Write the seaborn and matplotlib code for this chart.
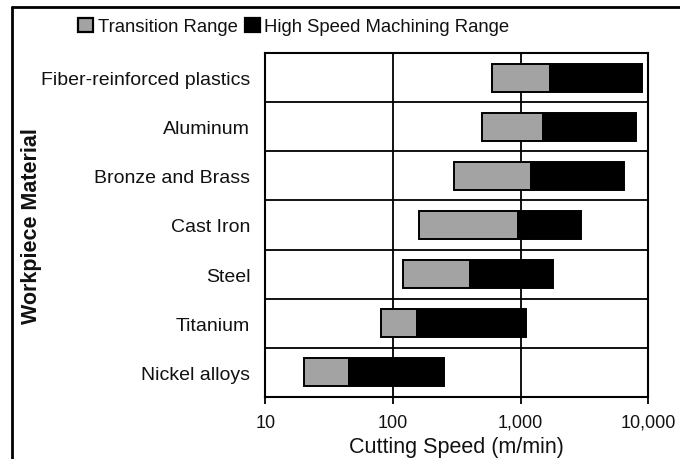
import matplotlib
matplotlib.use("Agg")
import matplotlib.pyplot as plt
from matplotlib.patches import Patch
from matplotlib.lines import Line2D
import seaborn as sns
import pandas as pd
import numpy as np

materials = ["Fiber-reinforced plastics", "Aluminum", "Bronze and Brass",
             "Cast Iron", "Steel", "Titanium", "Nickel alloys"]
transition_start = [600, 500, 300, 160, 120, 80, 20]
hsm_start = [1700, 1500, 1200, 950, 400, 155, 45]
hsm_end = [9000, 8000, 6500, 3000, 1800, 1100, 250]
x_ticks = [10, 100, 1000, 10000]
x_tick_labels = ["10", "100", "1,000", "10,000"]
legend_labels = ["Transition Range", "High Speed Machining Range"]

df = pd.DataFrame({
    "material": materials,
    "t_start": transition_start,
    "h_start": hsm_start,
    "h_end": hsm_end,
})
df["t_span"] = df["h_start"] - df["t_start"]
df["h_span"] = df["h_end"] - df["h_start"]

sns.set_theme(style="white")
plt.rcParams["font.family"] = ["Liberation Sans", "DejaVu Sans"]

gray = "#a3a3a3"
ink = "#111111"
fig = plt.figure(figsize=(6.8, 4.6), dpi=100)
ax = fig.add_axes([0.3904, 0.1348, 0.5626, 0.7478])

sns.barplot(data=df, y="material", x="t_span", orient="h", color=gray,
            saturation=1, errorbar=None, width=0.57, left=df["t_start"].values,
            edgecolor="black", linewidth=1.4, log_scale=(True, False), ax=ax, zorder=3)
sns.barplot(data=df, y="material", x="h_span", orient="h", color="black",
            saturation=1, errorbar=None, width=0.57, left=df["h_start"].values,
            edgecolor="black", linewidth=1.4, ax=ax, zorder=3)

ax.set_xscale("log")
ax.set_xlim(10, 10000)
ax.set_ylim(len(materials) - 0.5, -0.5)
ax.set_xticks(x_ticks)
ax.set_xticklabels(x_tick_labels)
ax.xaxis.set_minor_locator(matplotlib.ticker.NullLocator())
ax.set_yticks(np.arange(len(materials)) + 0.5, minor=True)
ax.grid(True, which="major", axis="x", color="black", linewidth=1.3, zorder=1)
ax.grid(True, which="minor", axis="y", color="black", linewidth=1.3, zorder=1)
ax.set_axisbelow(True)
for s in ax.spines.values():
    s.set_color("black")
    s.set_linewidth(1.5)
ax.tick_params(axis="x", which="major", bottom=True, length=5, width=1.3,
               color="black", labelsize=13, pad=7)
ax.tick_params(axis="y", which="both", left=False, length=0, labelsize=14, pad=11)
ax.tick_params(axis="y", which="minor", left=False)
for lab in ax.get_xticklabels() + ax.get_yticklabels():
    lab.set_color(ink)

ax.set_xlabel("Cutting Speed (m/min)", fontsize=15.5, labelpad=4, color=ink)
ax.set_ylabel("Workpiece Material", fontsize=15.5, fontweight="bold", color=ink)
ax.yaxis.set_label_coords(-0.585, 0.5)

handles = [Patch(facecolor=gray, edgecolor="black", linewidth=1.6),
           Patch(facecolor="black", edgecolor="black", linewidth=1.6)]
fig.legend(handles, legend_labels, loc="center", bbox_to_anchor=(0.432, 0.94),
           ncol=2, frameon=False, fontsize=13.3, handlelength=0.8, handleheight=0.8,
           handletextpad=0.25, columnspacing=0.4, labelcolor=ink)

fig.add_artist(Line2D([12 / 680, 12 / 680], [0, 1 - 8 / 460], transform=fig.transFigure,
                      color="black", linewidth=2))
fig.add_artist(Line2D([12 / 680, 1], [1 - 8 / 460, 1 - 8 / 460], transform=fig.transFigure,
                      color="black", linewidth=2))

fig.savefig("out.png", dpi=100)
